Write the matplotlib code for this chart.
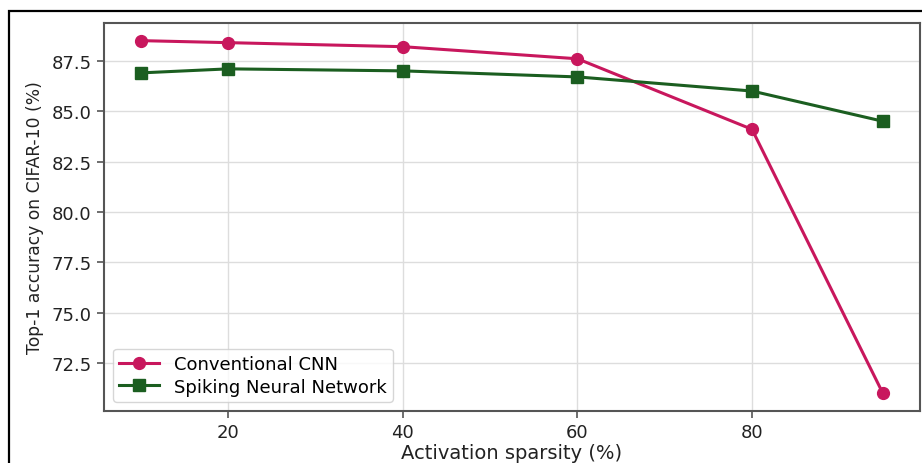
import matplotlib
matplotlib.use("Agg")
import matplotlib.pyplot as plt
from matplotlib.patches import Rectangle

plt.rcParams["font.family"] = ["DejaVu Sans"]

sparsity = [10, 20, 40, 60, 80, 95]
cnn_acc = [88.5, 88.4, 88.2, 87.6, 84.1, 71.0]
snn_acc = [86.9, 87.1, 87.0, 86.7, 86.0, 84.5]
yticks = [72.5, 75.0, 77.5, 80.0, 82.5, 85.0, 87.5]
xticks = [20, 40, 60, 80]

fig = plt.figure(figsize=(9.22, 4.64), dpi=100)
ax = fig.add_axes([104/922, 52/464, 816/922, 388/464])

ax.plot(sparsity, cnn_acc, color="#C8175D", marker="o", markersize=8.5,
        linewidth=2.2, label="Conventional CNN")
ax.plot(sparsity, snn_acc, color="#1B5E20", marker="s", markersize=8.5,
        linewidth=2.2, label="Spiking Neural Network")

ax.set_yticks(yticks)
ax.set_yticklabels([f"{v:.1f}" for v in yticks])
ax.set_xticks(xticks)
ax.tick_params(labelsize=13, colors="#222222", length=5, width=1.2, pad=4)
ax.tick_params(axis="both", color="#555555")
ax.grid(True, color="#dddddd", linewidth=1.0)
ax.set_axisbelow(True)
for s in ax.spines.values():
    s.set_color("#555555")
    s.set_linewidth(1.5)

ax.set_xlabel("Activation sparsity (%)", fontsize=14, color="#222222", labelpad=1)
ax.set_ylabel("Top-1 accuracy on CIFAR-10 (%)", fontsize=12.3, color="#222222", labelpad=5)

leg = ax.legend(loc="lower left", fontsize=13, frameon=True, handlelength=2.2,
                borderpad=0.35, labelspacing=0.25)
leg.get_frame().set_edgecolor("#cccccc")

frame = Rectangle((9/922, -0.2), 1.2, 1.2 - 12/464, transform=fig.transFigure,
                  fill=False, edgecolor="black", linewidth=1.6, clip_on=False)
fig.patches.append(frame)

fig.savefig("out.png", dpi=100)
